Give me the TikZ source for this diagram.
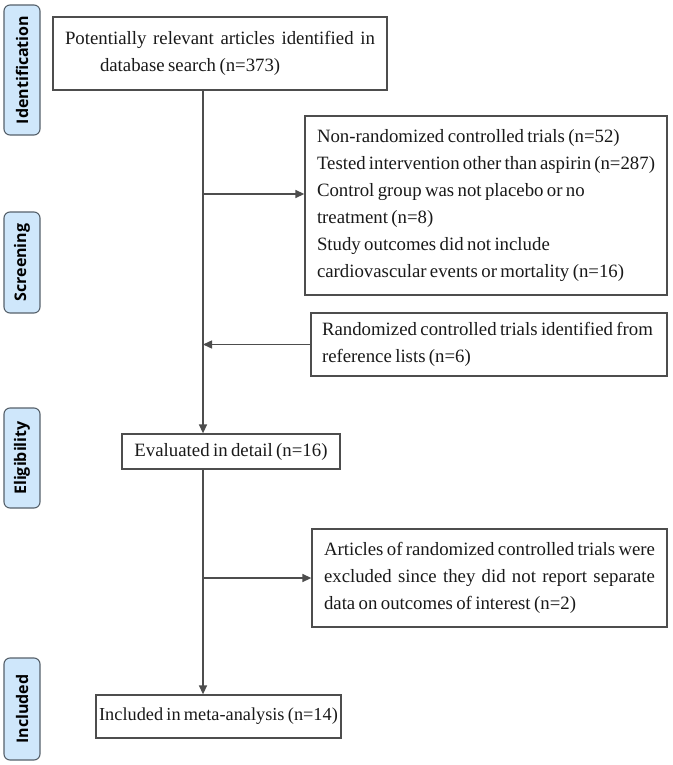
\documentclass[tikz,border=0pt]{standalone}
\usepackage{fontspec}
\setmainfont{Liberation Serif}
\newfontfamily\stagefont{Open Sans}
\usetikzlibrary{arrows.meta}
\definecolor{linegray}{HTML}{4D4D4D}
\definecolor{stageblue}{HTML}{CFE7FB}
\definecolor{stageedge}{HTML}{56616B}
\newcommand{\txt}{\fontsize{18.8}{27}\selectfont}
\newcommand{\tight}{\spaceskip=0.18em plus 0.4em minus 0.05em\relax}

\begin{document}
\begin{tikzpicture}[x=1pt, y=-1pt,
    box/.style={draw=linegray, line width=1.3pt, inner xsep=12pt, inner ysep=0pt, font=\txt, text=black!90},
    stage/.style={draw=stageedge, fill=stageblue, rounded corners=6pt, line width=1.1pt, rotate=90, minimum height=36, font=\stagefont\bfseries\fontsize{16}{16}\selectfont},
    flow/.style={draw=linegray, line width=1.4pt, -{Triangle[length=9pt,width=8pt]}}]
    \useasboundingbox (0,0) rectangle (672,765);
    % stages
    \node[stage, minimum width=130] (ident) at (22,70) {Identification};
    \node[stage, minimum width=101] (screen) at (22,262.5) {Screening};
    \node[stage, minimum width=100] (elig) at (22,458) {Eligibility};
    \node[stage, minimum width=102] (incl) at (22,709) {Included};
    % boxes
    \node[box, minimum width=334, minimum height=73, text width=310, align=justify] (search) at (220,53.5)
        {\tight Potentially relevant articles identified in\linebreak\hspace*{35pt}database search (n=373)};
    \node[box, minimum width=362, minimum height=179, text width=338, align=left] (nonrct) at (486,205.5)
        {\tight Non-randomized controlled trials (n=52)\\Tested intervention other than aspirin (n=287)\\Control group was not placebo or no\\treatment (n=8)\\Study outcomes did not include\\cardiovascular events or mortality (n=16)};
    \node[box, minimum width=356, minimum height=63, inner xsep=11pt, text width=334, align=left] (reflist) at (489,344.5)
        {\tight Randomized controlled trials identified from\\reference lists (n=6)};
    \node[box, minimum width=218, minimum height=35] (detail) at (231,451.5) {\tight Evaluated in detail (n=16)};
    \node[box, minimum width=355, minimum height=98, text width=331, align=justify] (nodata) at (489.5,578)
        {\tight Articles of randomized controlled trials were\linebreak excluded since they did not report separate\linebreak data on outcomes of interest (n=2)};
    \node[box, minimum width=243, minimum height=43, inner xsep=3pt, font=\fontsize{18.3}{27}\selectfont] (meta) at (218.5,716.5) {\tight Included in meta-analysis (n=14)};
    % arrows
    \coordinate (trunk) at (203,0);
    \coordinate (cut1) at (203,194);
    \draw[flow] (search.south -| trunk) -- (detail.north -| trunk);
    \draw[flow] (cut1) -- (cut1 -| nonrct.west);
    \draw[flow] (reflist.west) -- (reflist.west -| trunk);
    \draw[flow] (nodata.west -| trunk) -- (nodata.west);
    \draw[flow] (detail.south -| trunk) -- (meta.north -| trunk);
\end{tikzpicture}
\end{document}
